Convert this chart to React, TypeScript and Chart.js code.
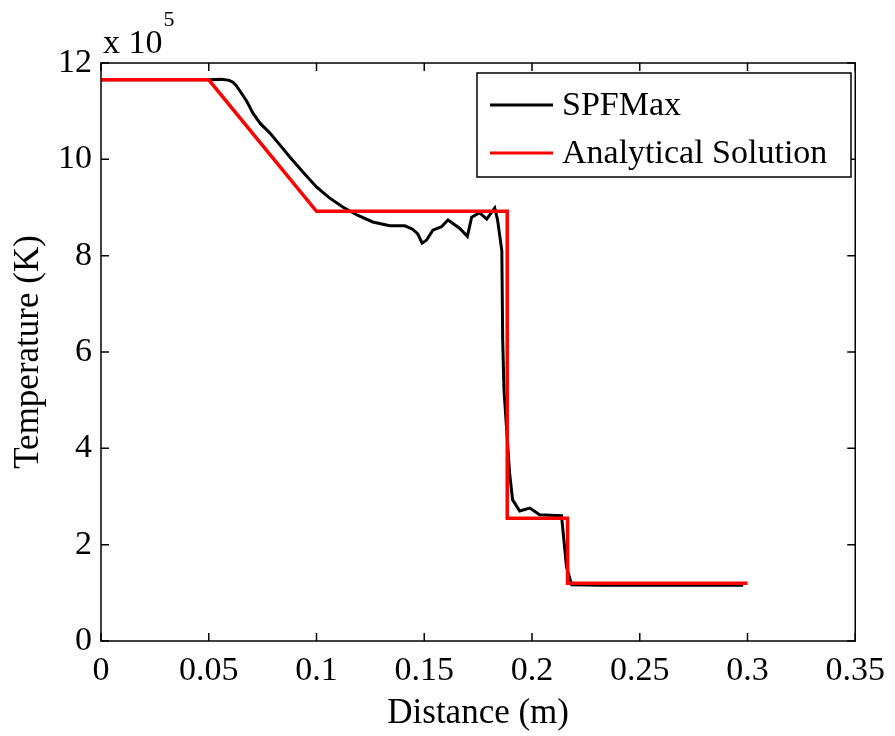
import React, { useEffect, useRef } from "react";
import { Chart, registerables } from "chart.js";

Chart.register(...registerables);

// Temperatures in units of 1e5 K
const spfX = [0, 0.05, 0.056, 0.0595, 0.0612, 0.0628, 0.064, 0.0658, 0.0677, 0.0705, 0.074, 0.0783, 0.083, 0.0876, 0.094, 0.1001, 0.106, 0.1122, 0.119, 0.1261, 0.134, 0.141, 0.1446, 0.147, 0.149, 0.151, 0.154, 0.158, 0.161, 0.1664, 0.17, 0.172, 0.1757, 0.179, 0.1827, 0.184, 0.186, 0.1864, 0.187, 0.1896, 0.191, 0.1943, 0.199, 0.2035, 0.2137, 0.2142, 0.216, 0.2184, 0.2327, 0.298];
const spfT = [11.65, 11.65, 11.66, 11.64, 11.6, 11.53, 11.45, 11.33, 11.2, 10.96, 10.74, 10.55, 10.3, 10.05, 9.72, 9.42, 9.2, 9.01, 8.84, 8.7, 8.62, 8.62, 8.55, 8.45, 8.26, 8.32, 8.53, 8.6, 8.74, 8.57, 8.4, 8.8, 8.89, 8.76, 8.99, 8.75, 8.1, 6.25, 5.21, 3.49, 2.93, 2.7, 2.76, 2.62, 2.6, 2.37, 1.54, 1.17, 1.16, 1.16];

const anaX = [0, 0.05, 0.1, 0.1885, 0.1885, 0.2165, 0.2165, 0.3];
const anaT = [11.65, 11.65, 8.92, 8.92, 2.55, 2.55, 1.2, 1.2];

const xTicks = [0, 0.05, 0.1, 0.15, 0.2, 0.25, 0.3, 0.35];
const yTicks = [0, 2, 4, 6, 8, 10, 12];
const seriesNames = ["SPFMax", "Analytical Solution"];
const seriesColors = ["#000000", "#ff0000"];
const exponentBase = "x 10";
const exponentPower = "5";
const xTitle = "Distance (m)";
const yTitle = "Temperature (K)";

const FONT = "'Liberation Serif', 'Times New Roman', serif";

const framePlugin = {
  id: "frame",
  afterDraw(chart: any) {
    const { ctx, chartArea: a, scales } = chart;
    ctx.save();
    ctx.strokeStyle = "#000";
    ctx.lineWidth = 1.5;
    ctx.strokeRect(a.left, a.top, a.right - a.left, a.bottom - a.top);
    const tl = 8;
    ctx.beginPath();
    xTicks.forEach((v) => {
      const px = scales.x.getPixelForValue(v);
      ctx.moveTo(px, a.bottom);
      ctx.lineTo(px, a.bottom - tl);
      ctx.moveTo(px, a.top);
      ctx.lineTo(px, a.top + tl);
    });
    yTicks.forEach((v) => {
      const py = scales.y.getPixelForValue(v);
      ctx.moveTo(a.left, py);
      ctx.lineTo(a.left + tl, py);
      ctx.moveTo(a.right, py);
      ctx.lineTo(a.right - tl, py);
    });
    ctx.stroke();

    // exponent label
    ctx.fillStyle = "#000";
    ctx.textBaseline = "alphabetic";
    ctx.textAlign = "left";
    ctx.font = `34px ${FONT}`;
    ctx.fillText(exponentBase, a.left + 2, a.top - 10);
    const w = ctx.measureText(exponentBase).width;
    ctx.font = `22px ${FONT}`;
    ctx.fillText(exponentPower, a.left + 3 + w, a.top - 37);

    // legend
    const lx = 477, ly = 73, lw = 374, lh = 104;
    ctx.fillStyle = "#fff";
    ctx.fillRect(lx, ly, lw, lh);
    ctx.lineWidth = 1.5;
    ctx.strokeStyle = "#000";
    ctx.strokeRect(lx, ly, lw, lh);
    ctx.font = `34px ${FONT}`;
    ctx.textBaseline = "middle";
    seriesNames.forEach((name, i) => {
      const y = ly + 32 + i * 48;
      ctx.strokeStyle = seriesColors[i];
      ctx.lineWidth = 3;
      ctx.beginPath();
      ctx.moveTo(lx + 13, y);
      ctx.lineTo(lx + 76, y);
      ctx.stroke();
      ctx.fillStyle = "#000";
      ctx.fillText(name, lx + 85, y + 1);
    });
    ctx.restore();
  },
};

export default function App() {
  const ref = useRef<HTMLCanvasElement>(null);
  useEffect(() => {
    const chart = new Chart(ref.current!, {
      type: "scatter",
      data: {
        datasets: [
          {
            label: seriesNames[0],
            data: spfX.map((x, i) => ({ x, y: spfT[i] })),
            borderColor: seriesColors[0],
            backgroundColor: seriesColors[0],
            borderWidth: 3,
            showLine: true,
            pointRadius: 0,
            order: 1,
          },
          {
            label: seriesNames[1],
            data: anaX.map((x, i) => ({ x, y: anaT[i] })),
            borderColor: seriesColors[1],
            backgroundColor: seriesColors[1],
            borderWidth: 3.5,
            showLine: true,
            pointRadius: 0,
            order: 0,
          },
        ],
      },
      options: {
        responsive: false,
        animation: false,
        layout: { padding: { top: 63, right: 37, left: 0, bottom: 0 } },
        plugins: { legend: { display: false }, tooltip: { enabled: false } },
        scales: {
          x: {
            type: "linear",
            min: 0,
            max: 0.35,
            afterFit: (s: any) => { s.height = 95; },
            afterBuildTicks: (s: any) => { s.ticks = xTicks.map((v) => ({ value: v })); },
            grid: { display: false, drawTicks: false },
            border: { display: false },
            ticks: {
              color: "#000",
              font: { family: FONT, size: 34 },
              padding: 10,
              maxRotation: 0,
              autoSkip: false,
              callback: (v: any) => String(v),
            },
            title: {
              display: true,
              text: xTitle,
              color: "#000",
              font: { family: FONT, size: 35 },
              padding: { top: 0, bottom: 1 },
            },
          },
          y: {
            type: "linear",
            min: 0,
            max: 12,
            afterFit: (s: any) => { s.width = 101; },
            afterBuildTicks: (s: any) => { s.ticks = yTicks.map((v) => ({ value: v })); },
            grid: { display: false, drawTicks: false },
            border: { display: false },
            ticks: {
              color: "#000",
              font: { family: FONT, size: 34 },
              padding: 9,
              autoSkip: false,
              callback: (v: any) => String(v),
            },
            title: {
              display: true,
              text: yTitle,
              color: "#000",
              font: { family: FONT, size: 35 },
              padding: { top: 8, bottom: 0 },
            },
          },
        },
      },
      plugins: [framePlugin],
    });
    return () => chart.destroy();
  }, []);
  return (
    <div style={{ position: "fixed", left: 0, top: 0, width: 895, height: 736, background: "#fff" }}>
      <canvas ref={ref} width={895} height={736} />
    </div>
  );
}
